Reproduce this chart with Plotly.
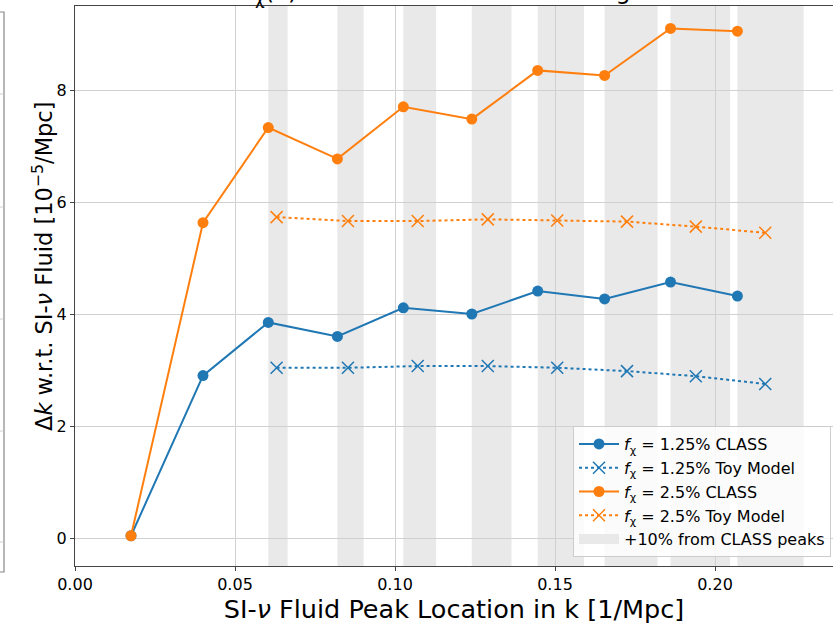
import plotly.graph_objects as go

# Peak locations (1/Mpc) and peak shifts (10^-5/Mpc)
peak_k_class = [0.0175, 0.0400, 0.0604, 0.0820, 0.1026, 0.1240, 0.1446, 0.1655, 0.1861, 0.2070]
dk_class_125 = [0.04, 2.90, 3.85, 3.60, 4.11, 4.00, 4.41, 4.27, 4.57, 4.32]
dk_class_25 = [0.04, 5.63, 7.33, 6.77, 7.70, 7.48, 8.35, 8.26, 9.10, 9.05]

peak_k_toy = [0.0630, 0.0853, 0.1071, 0.1290, 0.1507, 0.1725, 0.1940, 0.2157]
dk_toy_125 = [3.04, 3.04, 3.07, 3.07, 3.04, 2.98, 2.89, 2.75]
dk_toy_25 = [5.73, 5.66, 5.66, 5.69, 5.67, 5.65, 5.56, 5.45]

band_starts = peak_k_class[2:]
band_frac = 0.10

x_ticks = [0.00, 0.05, 0.10, 0.15, 0.20]
y_ticks = [0, 2, 4, 6, 8]

BLUE = "#1f77b4"
ORANGE = "#ff7f0e"
BAND = "rgba(211,211,211,0.5)"
BAND_SOLID = "#e9e9e9"
FONT = "DejaVu Sans"

W, H = 833, 624
L, T, B = 75, 6, 58
PW, PH = W - L, H - T - B
x_max = PW / 3200.0

fig = go.Figure()

fig.add_trace(go.Scatter(
    x=peak_k_class, y=dk_class_125, mode="lines+markers",
    name="<i>f</i><sub>χ</sub> = 1.25% CLASS",
    line=dict(color=BLUE, width=2), marker=dict(size=11, color=BLUE)))
fig.add_trace(go.Scatter(
    x=peak_k_toy, y=dk_toy_125, mode="lines+markers",
    name="<i>f</i><sub>χ</sub> = 1.25% Toy Model",
    line=dict(color=BLUE, width=2, dash="dot"),
    marker=dict(size=12, symbol="x-thin", line=dict(color=BLUE, width=1.5))))
fig.add_trace(go.Scatter(
    x=peak_k_class, y=dk_class_25, mode="lines+markers",
    name="<i>f</i><sub>χ</sub> = 2.5% CLASS",
    line=dict(color=ORANGE, width=2), marker=dict(size=11, color=ORANGE)))
fig.add_trace(go.Scatter(
    x=peak_k_toy, y=dk_toy_25, mode="lines+markers",
    name="<i>f</i><sub>χ</sub> = 2.5% Toy Model",
    line=dict(color=ORANGE, width=2, dash="dot"),
    marker=dict(size=12, symbol="x-thin", line=dict(color=ORANGE, width=1.5))))
# legend entry for the shaded bands (a thick grey patch)
fig.add_trace(go.Scatter(
    x=[None], y=[None], mode="lines",
    line=dict(color=BAND_SOLID, width=13),
    name="+10% from CLASS peaks"))

shapes = []
for k0 in band_starts:
    shapes.append(dict(type="rect", xref="x", yref="paper",
                       x0=k0, x1=k0 * (1 + band_frac), y0=0, y1=1,
                       fillcolor=BAND, line=dict(width=0), layer="below"))

# pixel -> paper coordinate helpers
def py(px):
    return (H - B - px) / PH

def pxx(px):
    return (px - L) / PW

# edge of the neighbouring panel on the left
shapes.append(dict(type="rect", xref="paper", yref="paper",
                   x0=pxx(-20), x1=pxx(4), y0=py(572), y1=py(12),
                   line=dict(color="#888888", width=1.2), fillcolor="rgba(0,0,0,0)"))
for gy in [94, 207, 319, 431, 542]:
    shapes.append(dict(type="line", xref="paper", yref="paper",
                       x0=pxx(0), x1=pxx(3.5), y0=py(gy), y1=py(gy),
                       line=dict(color="#d0d0d0", width=1)))

fig.update_layout(
    width=W, height=H,
    margin=dict(l=L, r=0, t=T, b=B, pad=0),
    paper_bgcolor="white", plot_bgcolor="white",
    font=dict(family=FONT, size=16, color="black"),
    shapes=shapes,
    showlegend=True,
    legend=dict(x=pxx(831), xanchor="right", y=py(557), yanchor="bottom",
                bgcolor="rgba(255,255,255,0.8)", bordercolor="#cccccc", borderwidth=1,
                font=dict(family=FONT, size=16), itemwidth=40, traceorder="normal"),
    annotations=[
        dict(text="Δk for <i>f</i><sub>χ</sub>(k) Model vs. SI-ν Fluid Scaling",
             xref="paper", yref="paper", x=pxx(166), y=1.0 - 4.0 / PH,
             xanchor="left", yanchor="bottom", showarrow=False,
             font=dict(family=FONT, size=24, color="black")),
        dict(text="Δ<i>k</i> w.r.t. SI-<i>ν</i> Fluid [10<sup>−5</sup>/Mpc]",
             xref="paper", yref="paper", x=pxx(42), y=py(266),
             xanchor="center", yanchor="middle", textangle=-90, showarrow=False,
             font=dict(family=FONT, size=22.5, color="black")),
    ],
)

fig.update_xaxes(
    range=[0, x_max], tickvals=x_ticks, ticktext=[f"{v:.2f}" for v in x_ticks],
    showgrid=True, gridcolor="#d0d0d0", gridwidth=1, zeroline=False,
    showline=True, linecolor="#444444", linewidth=1.2, mirror=True,
    ticks="outside", ticklen=4, tickcolor="#444444",
    tickfont=dict(family=FONT, size=16),
    title=dict(text="SI-<i>ν</i> Fluid Peak Location in k [1/Mpc]",
               font=dict(family=FONT, size=25.5), standoff=5),
    automargin=False)
fig.update_yaxes(
    range=[-0.5, 9.5], tickvals=y_ticks, ticktext=[str(v) for v in y_ticks],
    showgrid=True, gridcolor="#d0d0d0", gridwidth=1, zeroline=False,
    showline=True, linecolor="#444444", linewidth=1.2, mirror=False,
    ticks="outside", ticklen=4, tickcolor="#444444",
    tickfont=dict(family=FONT, size=16),
    automargin=False)

fig.write_html("out.html")
